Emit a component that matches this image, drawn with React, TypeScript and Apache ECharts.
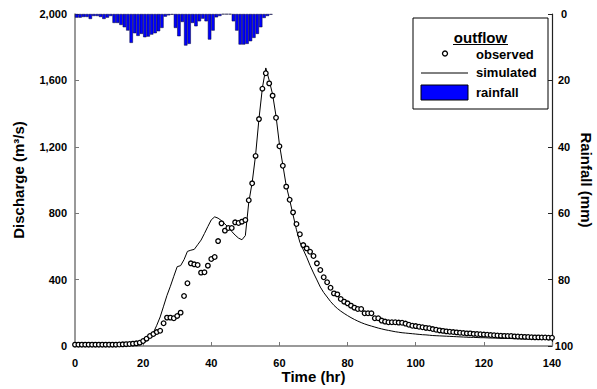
import React, { useEffect, useRef } from "react";
import * as echarts from "echarts";

// Observed outflow (m3/s), hourly from t = 0 to 140 hr
const observedQ = [
  8, 8, 8, 8, 8, 8, 8, 8, 8, 8, 8, 8, 8, 9, 10, 11, 12, 14, 16,
  20, 30, 44, 60, 72, 84, 92, 137, 171, 171, 167, 181, 201, 301, 378, 498, 492, 488, 442, 444, 484,
  524, 536, 632, 739, 695, 711, 711, 745, 741, 749, 759, 878, 980, 1145, 1367, 1550, 1643, 1582, 1508, 1375,
  1203, 1086, 960, 881, 805, 735, 673, 608, 588, 568, 542, 498, 458, 414, 384, 351, 317, 311, 283, 267,
  257, 243, 231, 223, 223, 197, 197, 197, 167, 167, 153, 147, 143, 143, 143, 141, 140, 135, 128, 122,
  120, 116, 113, 109, 107, 102, 98, 94, 91, 88, 86, 84, 82, 80, 78, 76, 76, 73, 72, 71,
  69, 68, 66, 65, 63, 62, 61, 60, 60, 58, 57, 56, 55, 54, 53, 52, 52, 51, 51, 50, 50,
];

// Simulated outflow (m3/s), hourly from t = 0 to 140 hr
const simulatedQ = [
  5, 5, 5, 5, 5, 5, 5, 5, 5, 5, 5, 5, 5, 5, 5, 5, 5, 5, 5,
  8, 16, 32, 55, 80, 125, 175, 240, 305, 360, 420, 478, 484, 520, 570, 577, 582, 610, 638, 678, 720,
  760, 778, 770, 755, 735, 715, 690, 668, 650, 640, 665, 865, 985, 1150, 1370, 1555, 1675, 1600, 1515, 1385,
  1215, 1090, 965, 881, 790, 700, 625, 580, 535, 485, 440, 398, 355, 322, 295, 268, 245, 226, 210, 196,
  183, 171, 160, 150, 141, 133, 126, 120, 114, 108, 103, 98, 94, 90, 86, 83, 80, 78, 76, 74,
  72, 70, 68, 67, 65, 63, 62, 61, 60, 59, 58, 57, 56, 55, 54, 53, 52, 52, 51, 50,
  50, 49, 48, 48, 47, 46, 46, 45, 45, 44, 43, 43, 42, 42, 41, 41, 40, 40, 40, 39, 39,
];

// Hourly rainfall (mm), hour 0 .. 57
const rainfallMm = [
  1.1, 1.1, 0.9, 0.9, 1.5, 0.6, 0.6, 0.9, 1.5, 1.1, 0.6, 2.7, 2.7, 3.3, 4.0, 5.0, 8.7, 5.8, 6.6, 6.0,
  7.0, 6.8, 6.2, 5.8, 5.2, 4.2, 0.8, 0.4, 0.2, 4.2, 6.7, 2.4, 9.5, 9.0, 2.7, 3.7, 2.2, 1.4, 2.2, 7.7,
  5.0, 1.0, 0.6, 0.1, 0.1, 0.1, 2.2, 5.0, 9.2, 9.2, 9.0, 8.2, 7.2, 6.0, 4.0, 1.2, 0.6, 0.2,
];

const timeTicks = { min: 0, max: 140, interval: 20 };
const dischargeTicks = { min: 0, max: 2000, interval: 400 };
const rainTicks = { min: 0, max: 100, interval: 20 };

const FONT = "'Liberation Sans', Arial, Helvetica, sans-serif";

export default function App() {
  const ref = useRef<HTMLDivElement>(null);

  useEffect(() => {
    if (!ref.current) return;
    const chart = echarts.init(ref.current, undefined, { renderer: "svg" });

    const obsData = observedQ.map((v, i) => [i, v]);
    const simData = simulatedQ.map((v, i) => [i, v]);
    const rainData = rainfallMm.map((v, i) => [i + 0.5, v]);

    const axisGray = "#777777";
    const nameStyle = {
      fontSize: 15,
      fontWeight: "bold",
      color: "#000",
      fontFamily: FONT,
      align: "center",
      verticalAlign: "middle",
    };

    const option: any = {
      animation: false,
      backgroundColor: "#ffffff",
      textStyle: { fontFamily: FONT },
      grid: { left: 75, right: 45, top: 14, bottom: 43, containLabel: false, outerBoundsMode: "none" },
      xAxis: {
        type: "value",
        min: timeTicks.min,
        max: timeTicks.max,
        interval: timeTicks.interval,
        name: "Time (hr)",
        nameLocation: "middle",
        nameGap: 30,
        nameMoveOverlap: false,
        nameTextStyle: nameStyle,
        axisLine: { show: true, onZero: false, lineStyle: { color: axisGray, width: 1.5 } },
        axisTick: { show: true, inside: true, length: 4, lineStyle: { color: axisGray, width: 1 } },
        axisLabel: { fontSize: 11, fontWeight: "bold", color: "#000", margin: 11, fontFamily: FONT },
        splitLine: { show: false },
      },
      yAxis: [
        {
          type: "value",
          position: "left",
          min: dischargeTicks.min,
          max: dischargeTicks.max,
          interval: dischargeTicks.interval,
          name: "Discharge (m³/s)",
          nameLocation: "middle",
          nameRotate: 90,
          nameGap: 57,
          nameMoveOverlap: false,
          nameTextStyle: nameStyle,
          axisLine: { show: true, onZero: false, lineStyle: { color: axisGray, width: 1.5 } },
          axisTick: { show: true, inside: true, length: 4, lineStyle: { color: axisGray, width: 1 } },
          axisLabel: {
            fontSize: 11,
            fontWeight: "bold",
            color: "#000",
            margin: 8,
            fontFamily: FONT,
            formatter: (v: number) => v.toLocaleString("en-US"),
          },
          splitLine: { show: false },
        },
        {
          type: "value",
          position: "right",
          inverse: true,
          min: rainTicks.min,
          max: rainTicks.max,
          interval: rainTicks.interval,
          name: "Rainfall (mm)",
          nameLocation: "middle",
          nameRotate: -90,
          nameGap: 34,
          nameMoveOverlap: false,
          nameTextStyle: nameStyle,
          axisLine: { show: true, onZero: false, lineStyle: { color: "#222", width: 1.2 } },
          axisTick: { show: true, inside: true, length: 4, lineStyle: { color: "#222", width: 1 } },
          axisLabel: {
            fontSize: 11,
            fontWeight: "bold",
            color: "#000",
            margin: 12,
            align: "center",
            fontFamily: FONT,
          },
          splitLine: { show: false },
        },
      ],
      series: [
        {
          name: "rainfall",
          type: "bar",
          yAxisIndex: 1,
          data: rainData,
          barWidth: 3.4,
          itemStyle: { color: "#0000ff", borderColor: "#000033", borderWidth: 0.5 },
          z: 1,
        },
        {
          name: "simulated",
          type: "line",
          yAxisIndex: 0,
          data: simData,
          symbol: "none",
          lineStyle: { color: "#000", width: 1 },
          z: 2,
        },
        {
          name: "observed",
          type: "scatter",
          yAxisIndex: 0,
          data: obsData,
          symbol: "circle",
          symbolSize: 4.6,
          itemStyle: { color: "#ffffff", borderColor: "#000000", borderWidth: 1.3, opacity: 1 },
          z: 3,
        },
      ],
      graphic: [
        {
          type: "group",
          z: 100,
          children: [
            {
              type: "rect",
              shape: { x: 413, y: 18, width: 135, height: 91 },
              style: { fill: "#fff", stroke: "#000", lineWidth: 1 },
            },
            {
              type: "text",
              x: 480.5,
              y: 37,
              style: {
                text: "outflow",
                fill: "#000",
                font: `bold 15px ${FONT}`,
                textAlign: "center",
                textVerticalAlign: "middle",
              },
            },
            {
              type: "line",
              shape: { x1: 453, y1: 44.5, x2: 508, y2: 44.5 },
              style: { stroke: "#000", lineWidth: 1 },
            },
            {
              type: "circle",
              shape: { cx: 445, cy: 53.5, r: 2.5 },
              style: { fill: "#fff", stroke: "#000", lineWidth: 1.3 },
            },
            {
              type: "text",
              x: 476,
              y: 54,
              style: {
                text: "observed",
                fill: "#000",
                font: `bold 13px ${FONT}`,
                textAlign: "left",
                textVerticalAlign: "middle",
              },
            },
            {
              type: "line",
              shape: { x1: 421, y1: 73, x2: 468, y2: 73 },
              style: { stroke: "#000", lineWidth: 1 },
            },
            {
              type: "text",
              x: 476,
              y: 72.5,
              style: {
                text: "simulated",
                fill: "#000",
                font: `bold 13px ${FONT}`,
                textAlign: "left",
                textVerticalAlign: "middle",
              },
            },
            {
              type: "rect",
              shape: { x: 421, y: 85, width: 47, height: 15 },
              style: { fill: "#0000ff", stroke: "#000", lineWidth: 1 },
            },
            {
              type: "text",
              x: 476,
              y: 92,
              style: {
                text: "rainfall",
                fill: "#000",
                font: `bold 13px ${FONT}`,
                textAlign: "left",
                textVerticalAlign: "middle",
              },
            },
          ],
        },
      ],
    };

    chart.setOption(option);
    return () => {
      chart.dispose();
    };
  }, []);

  return (
    <div
      ref={ref}
      style={{ position: "fixed", left: 0, top: 0, width: 597, height: 389, background: "#fff" }}
    />
  );
}
